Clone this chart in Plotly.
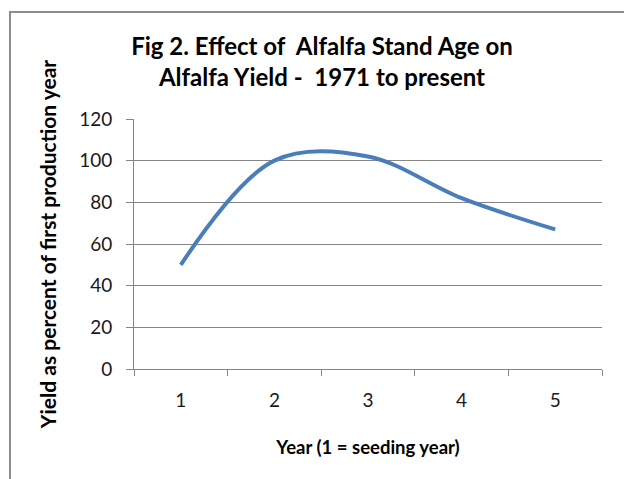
import plotly.graph_objects as go

years = ["1", "2", "3", "4", "5"]
yield_pct = [50, 100, 102, 82, 67]
y_ticks = [0, 20, 40, 60, 80, 100, 120]

title_text = "Fig 2. Effect of  Alfalfa Stand Age on<br>Alfalfa Yield -  1971 to present"
x_title = "Year (1 = seeding year)"
y_title = "Yield as percent of first production year"

W, H = 624, 479
L, T = 134, 119
R = W - 602
B = H - 369
pw, ph = W - L - R, H - T - B

def px_x(p):
    return (p - L) / pw

def px_y(p):
    return (H - B - p) / ph

fig = go.Figure()
fig.add_trace(go.Scatter(
    x=years, y=yield_pct, mode="lines",
    line=dict(color="#4A7EBB", width=4, shape="spline", smoothing=1.0),
    hoverinfo="skip", showlegend=False,
))

font_family = "Lato, 'Open Sans', sans-serif"

fig.update_layout(
    width=W, height=H,
    margin=dict(l=L, r=R, t=T, b=B, autoexpand=False),
    paper_bgcolor="white", plot_bgcolor="white",
    font=dict(family=font_family, color="#000000"),
    title=dict(text="<b>" + title_text + "</b>", x=322 / W, xanchor="center",
               y=1 - 55 / H, yanchor="middle", automargin=False,
               font=dict(size=24, family=font_family, color="#000000")),
    xaxis=dict(
        type="category", range=[-0.5, 4.5], automargin=False,
        tickson="boundaries", ticks="outside", ticklen=6, tickcolor="#868686",
        showline=True, linecolor="#868686", linewidth=1,
        showgrid=False, zeroline=False, ticklabelstandoff=14,
        tickfont=dict(size=19, color="#1a1a1a"),
        title=dict(text="<b>" + x_title + "</b>", font=dict(size=18.5), standoff=31),
    ),
    yaxis=dict(
        range=[0, 120], tickvals=y_ticks, automargin=False,
        ticks="outside", ticklen=7, tickcolor="#868686",
        showline=True, linecolor="#868686", linewidth=1,
        showgrid=True, gridcolor="#868686", gridwidth=1,
        zeroline=False, ticklabelstandoff=10,
        tickfont=dict(size=19, color="#1a1a1a"),
        title=dict(text="<b>" + y_title + "</b>", font=dict(size=21), standoff=16),
    ),
    shapes=[
        dict(type="line", xref="paper", yref="paper", layer="above",
             x0=px_x(10), x1=px_x(640), y0=px_y(12), y1=px_y(12),
             line=dict(color="#8C8C8C", width=2)),
        dict(type="line", xref="paper", yref="paper", layer="above",
             x0=px_x(10), x1=px_x(10), y0=px_y(11), y1=px_y(500),
             line=dict(color="#8C8C8C", width=2)),
    ],
)

fig.write_html(
    "out.html",
    config={"displayModeBar": False},
    post_script="document.body.style.margin='0';document.body.style.overflow='hidden';",
)
